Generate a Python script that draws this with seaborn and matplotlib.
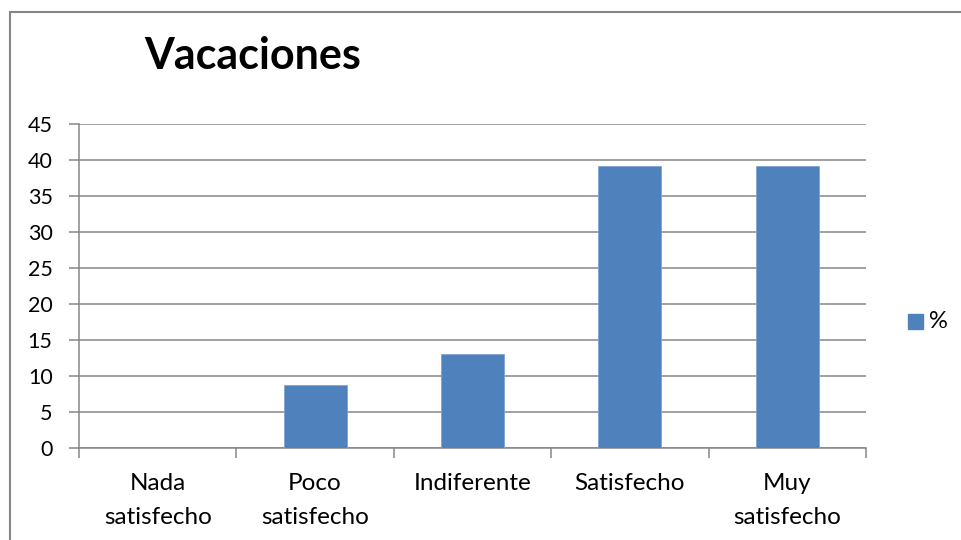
import matplotlib
matplotlib.use("Agg")
import matplotlib.pyplot as plt
import seaborn as sns
import pandas as pd
from matplotlib.patches import Rectangle

# datos
categorias = ["Nada\nsatisfecho", "Poco\nsatisfecho", "Indiferente", "Satisfecho", "Muy\nsatisfecho"]
porcentajes = [0, 8.7, 13.04, 39.13, 39.13]
y_ticks = [0, 5, 10, 15, 20, 25, 30, 35, 40, 45]
titulo = "Vacaciones"
serie = "%"

df = pd.DataFrame({"categoria": categorias, "pct": porcentajes})

sns.set_style("white")
plt.rcParams["font.family"] = ["Lato", "DejaVu Sans"]
plt.rcParams["text.color"] = "black"
plt.rcParams["xtick.color"] = "black"
plt.rcParams["ytick.color"] = "black"

azul = "#4F81BD"
gris = "#868686"

fig = plt.figure(figsize=(9.61, 5.40), dpi=100)
ax = fig.add_axes([79 / 961, 1 - 448 / 540, 787 / 961, 324 / 540])

sns.barplot(data=df, x="categoria", y="pct", color=azul, width=0.4,
            saturation=1, edgecolor="#7fa3d4", linewidth=0.6, ax=ax, zorder=3)

ax.set_xlim(-0.5, len(categorias) - 0.5)
ax.set_ylim(0, 45)
ax.set_yticks(y_ticks)
ax.set_xlabel("")
ax.set_ylabel("")

ax.yaxis.grid(True, color=gris, linewidth=1.1, zorder=0)
ax.xaxis.grid(False)
for s in ["top", "right"]:
    ax.spines[s].set_visible(False)
for s in ["left", "bottom"]:
    ax.spines[s].set_color(gris)
    ax.spines[s].set_linewidth(1.1)

ax.tick_params(axis="y", length=7, width=1.1, color=gris, pad=12, labelsize=15.5,
               labelcolor="black", left=True)
ax.tick_params(axis="x", which="major", length=0, pad=18, labelsize=17.5,
               labelcolor="black")
ax.set_xticks([i - 0.5 for i in range(len(categorias) + 1)], minor=True)
ax.tick_params(axis="x", which="minor", length=7, width=1.1, color=gris, bottom=True)
for t in ax.get_xticklabels():
    t.set_linespacing(1.75)

fig.text(253 / 961, 1 - 56 / 540, titulo, fontsize=31, fontweight="bold",
         ha="center", va="center", color="black")

# leyenda
fig.patches.append(Rectangle((908 / 961, 1 - 329 / 540), 15 / 961, 15 / 540,
                             transform=fig.transFigure, color=azul, figure=fig))
fig.text(929 / 961, 1 - 321 / 540, serie, fontsize=17, ha="left", va="center",
         color="black")

# borde del grafico
fig.patches.append(Rectangle((9.5 / 961, -0.05), 1.0, 1 - 11.5 / 540 + 0.05,
                             transform=fig.transFigure, fill=False,
                             edgecolor=gris, linewidth=1.5, figure=fig))

fig.savefig("out.png", dpi=100)
